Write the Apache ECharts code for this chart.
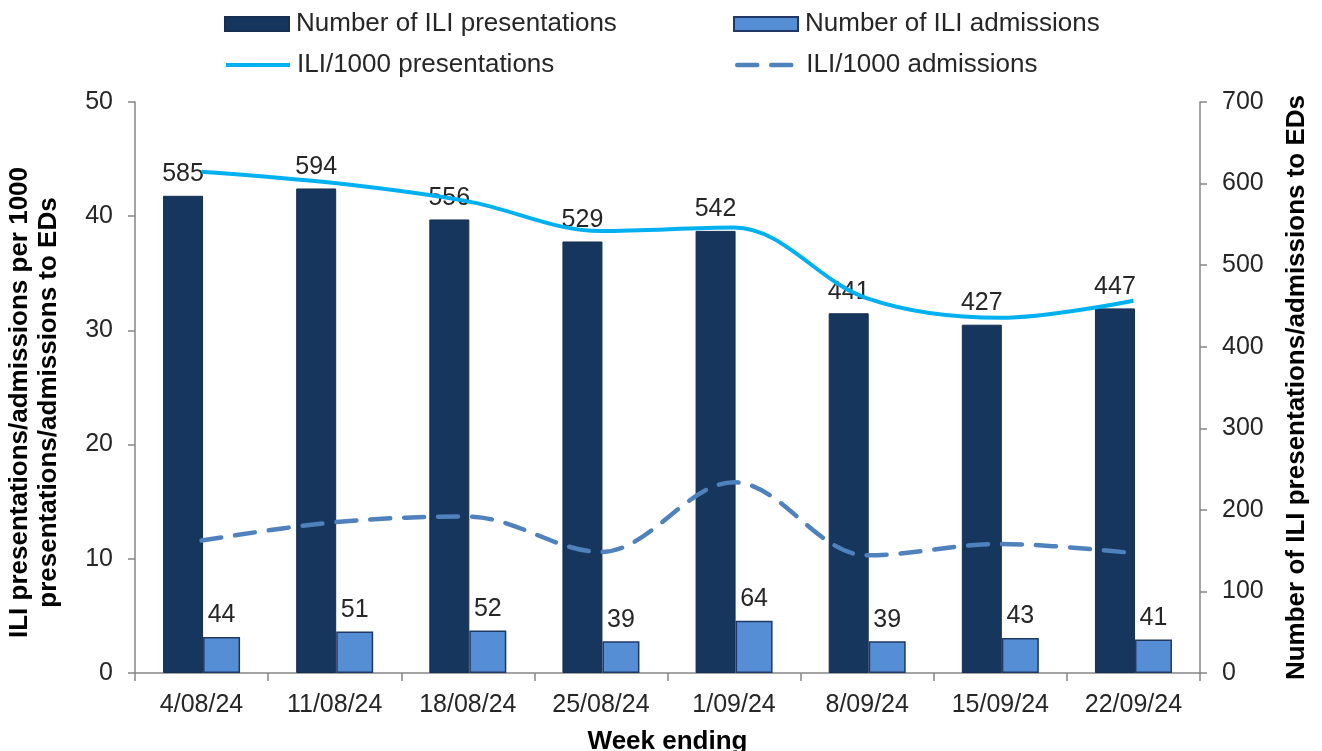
<!DOCTYPE html>
<html>
<head>
<meta charset="utf-8">
<script src="https://cdn.jsdelivr.net/npm/echarts@6/dist/echarts.min.js"></script>
<style>
	html, body { margin:0; padding:0; background:#fff; }
	#chart { width:1322px; height:751px; }
</style>
</head>
<body>
<div id="chart"></div>
<script>
var weeks = ['4/08/24','11/08/24','18/08/24','25/08/24','1/09/24','8/09/24','15/09/24','22/09/24'];
var presentations = [585, 594, 556, 529, 542, 441, 427, 447];
var admissions = [44, 51, 52, 39, 64, 39, 43, 41];
var presPer1000 = [43.9, 42.9, 41.3, 38.7, 39.0, 32.8, 31.1, 32.6];
var admPer1000 = [11.6, 13.2, 13.7, 10.6, 16.7, 10.3, 11.3, 10.5];

var fontFam = '"Liberation Sans", Arial, sans-serif';
var axisColor = '#868686';
var textColor = '#262626';

var legendText = { fontSize: 26, lineHeight: 28, color: textColor, fontFamily: fontFam, padding: [0, 0, 0, 2] };

var chart = echarts.init(document.getElementById('chart'));

var option = {
	animation: false,
	textStyle: { fontFamily: fontFam },
	legend: [
		{ left: 224, top: 10, padding: 0, icon: 'rect', itemWidth: 64, itemHeight: 14, textStyle: legendText, data: ['Number of ILI presentations'] },
		{ left: 733, top: 10, padding: 0, icon: 'rect', itemWidth: 64, itemHeight: 14, textStyle: legendText, data: ['Number of ILI admissions'] },
		{ left: 224, top: 51, padding: 0, itemWidth: 64, itemHeight: 14, textStyle: legendText,
			lineStyle: { width: 4 }, data: ['ILI/1000 presentations'] },
		{ left: 735, top: 51, padding: 0, itemWidth: 62, itemHeight: 14, textStyle: legendText,
			lineStyle: { width: 4.5, type: [20, 14], cap: 'round' }, data: ['ILI/1000 admissions'] }
	],
	grid: { left: 135, right: 122, top: 102, bottom: 78, outerBoundsMode: 'none' },
	xAxis: {
		type: 'category',
		data: weeks,
		name: 'Week ending',
		nameLocation: 'middle',
		nameGap: 56,
		nameTextStyle: { fontSize: 26, fontWeight: 'bold', color: '#000' },
		axisLine: { lineStyle: { color: axisColor, width: 1.5 } },
		axisTick: { show: true, length: 8, lineStyle: { color: axisColor, width: 1.5 } },
		axisLabel: { fontSize: 25, color: textColor, margin: 20 }
	},
	yAxis: [
		{
			type: 'value',
			min: 0, max: 50, interval: 10,
			position: 'left',
			name: 'ILI presentations/admissions per 1000\npresentations/admissions to EDs',
			nameLocation: 'middle',
			nameRotate: 90,
			nameGap: 72,
			nameTextStyle: { fontSize: 26, fontWeight: 'bold', color: '#000', lineHeight: 29, padding: [0, 30, 0, 0] },
			axisLine: { show: true, lineStyle: { color: axisColor, width: 1.5 } },
			axisTick: { show: true, length: 7, lineStyle: { color: axisColor, width: 1.5 } },
			axisLabel: { fontSize: 25, color: textColor, margin: 22 },
			splitLine: { show: false }
		},
		{
			type: 'value',
			min: 0, max: 700, interval: 100,
			position: 'right',
			name: 'Number of ILI presentations/admissions to EDs',
			nameLocation: 'middle',
			nameRotate: 90,
			nameGap: 84,
			nameTextStyle: { fontSize: 26, fontWeight: 'bold', color: '#000' },
			axisLine: { show: true, lineStyle: { color: axisColor, width: 1.5 } },
			axisTick: { show: true, length: 7, lineStyle: { color: axisColor, width: 1.5 } },
			axisLabel: { fontSize: 25, color: textColor, margin: 22 },
			splitLine: { show: false }
		}
	],
	series: [
		{
			name: 'Number of ILI presentations',
			type: 'bar',
			yAxisIndex: 1,
			data: presentations,
			barWidth: 40,
			barGap: '0%',
			itemStyle: { color: '#17365d', borderColor: '#142f52', borderWidth: 1 },
			label: { show: true, position: 'top', distance: 9, fontSize: 25, color: textColor }
		},
		{
			name: 'Number of ILI admissions',
			type: 'bar',
			yAxisIndex: 1,
			data: admissions,
			barWidth: 37,
			barGap: '0%',
			itemStyle: { color: '#558ed5', borderColor: '#1f3864', borderWidth: 1.5 },
			label: { show: true, position: 'top', distance: 9, fontSize: 25, color: textColor }
		},
		{
			name: 'ILI/1000 presentations',
			type: 'line',
			yAxisIndex: 0,
			data: presPer1000,
			smooth: 0.35,
			symbol: 'none',
			z: 5,
			lineStyle: { color: '#00b0f0', width: 4 },
			itemStyle: { color: 'rgba(0,0,0,0)' }
		},
		{
			name: 'ILI/1000 admissions',
			type: 'line',
			yAxisIndex: 0,
			data: admPer1000,
			smooth: 0.35,
			symbol: 'none',
			z: 5,
			lineStyle: { color: '#4f81bd', width: 4.5, type: [20, 14], cap: 'round' },
			itemStyle: { color: 'rgba(0,0,0,0)' }
		}
	]
};

chart.setOption(option);
</script>
</body>
</html>
